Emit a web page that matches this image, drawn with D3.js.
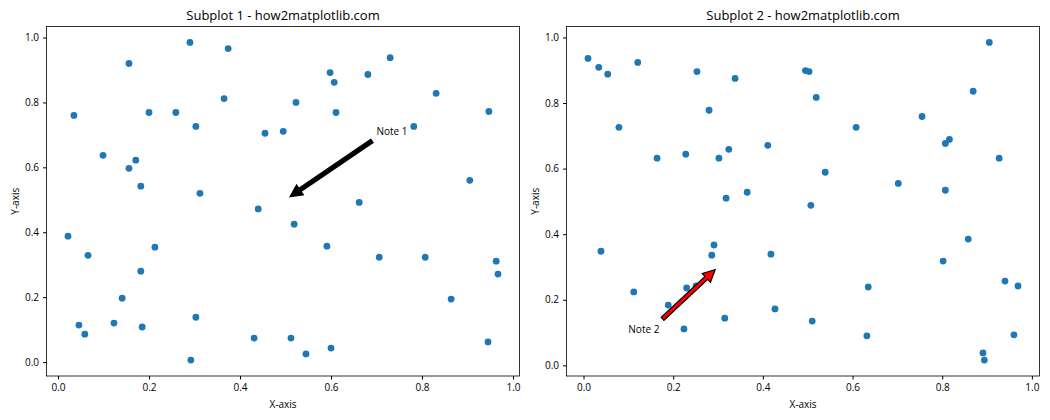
<!DOCTYPE html>
<html>
<head>
<meta charset="utf-8">
<script src="https://cdn.jsdelivr.net/npm/d3@7"></script>
<style>
  body { margin: 0; background: #fff; }
  svg text { font-family: "Segoe UI", "Open Sans", sans-serif; fill: #000; }
</style>
</head>
<body>
<svg id="chart" width="1050" height="420"></svg>
<script>
// Scatter points
const x1 = [0.035, 0.156, 0.099, 0.156, 0.171, 0.182, 0.200, 0.259, 0.290, 0.303,
            0.312, 0.365, 0.374, 0.455, 0.440, 0.495, 0.523, 0.598, 0.607, 0.611,
            0.681, 0.730, 0.782, 0.831, 0.947, 0.905, 0.662, 0.022, 0.066, 0.213,
            0.182, 0.141, 0.046, 0.059, 0.123, 0.185, 0.303, 0.292, 0.431, 0.519,
            0.591, 0.706, 0.807, 0.963, 0.967, 0.864, 0.512, 0.545, 0.600, 0.945];
const y1 = [0.760, 0.920, 0.637, 0.597, 0.622, 0.542, 0.769, 0.769, 0.985, 0.726,
            0.520, 0.812, 0.966, 0.705, 0.472, 0.711, 0.800, 0.892, 0.862, 0.769,
            0.886, 0.938, 0.726, 0.828, 0.772, 0.560, 0.492, 0.388, 0.329, 0.354,
            0.280, 0.197, 0.114, 0.086, 0.120, 0.108, 0.138, 0.006, 0.074, 0.425,
            0.357, 0.323, 0.323, 0.311, 0.271, 0.194, 0.074, 0.025, 0.043, 0.062];

const x2 = [0.010, 0.034, 0.054, 0.079, 0.121, 0.164, 0.228, 0.253, 0.280, 0.302,
            0.324, 0.338, 0.318, 0.365, 0.411, 0.495, 0.503, 0.519, 0.608, 0.539,
            0.507, 0.702, 0.755, 0.807, 0.807, 0.816, 0.869, 0.905, 0.927, 0.039,
            0.112, 0.189, 0.224, 0.230, 0.251, 0.286, 0.291, 0.315, 0.418, 0.427,
            0.858, 0.802, 0.940, 0.969, 0.635, 0.510, 0.632, 0.960, 0.891, 0.894];
const y2 = [0.936, 0.909, 0.888, 0.726, 0.924, 0.632, 0.644, 0.896, 0.778, 0.632,
            0.659, 0.875, 0.510, 0.528, 0.671, 0.899, 0.896, 0.817, 0.726, 0.589,
            0.488, 0.555, 0.759, 0.534, 0.677, 0.689, 0.836, 0.985, 0.632, 0.348,
            0.224, 0.184, 0.111, 0.236, 0.242, 0.336, 0.367, 0.144, 0.339, 0.172,
            0.385, 0.318, 0.257, 0.242, 0.239, 0.135, 0.090, 0.093, 0.038, 0.016];

const tickValues = [0, 0.2, 0.4, 0.6, 0.8, 1.0];

const subplots = [
  { left: 46.5, xs: x1, ys: y1, title: "Subplot 1 - how2matplotlib.com",
    note: "Note 1", noteAt: [0.5, 0.5], textAt: [0.7, 0.7], fill: "black" },
  { left: 566.5, xs: x2, ys: y2, title: "Subplot 2 - how2matplotlib.com",
    note: "Note 2", noteAt: [0.3, 0.3], textAt: [0.1, 0.1], fill: "red" }
];

const plotTop = 26.5, plotH = 349.5, plotW = 473;
const svg = d3.select("#chart");

// matplotlib style auto limits: 5% margin around the data
const padded = vals => {
  const [lo, hi] = d3.extent(vals);
  const m = (hi - lo) * 0.05;
  return [lo - m, hi + m];
};

subplots.forEach(p => {
  const x = d3.scaleLinear().domain(padded(p.xs)).range([p.left, p.left + plotW]);
  const y = d3.scaleLinear().domain(padded(p.ys)).range([plotTop + plotH, plotTop]);

  const g = svg.append("g");

  g.append("g")
    .attr("transform", `translate(0,${plotTop + plotH})`)
    .call(d3.axisBottom(x).tickValues(tickValues).tickFormat(d3.format(".1f")).tickSizeOuter(0).tickSize(3.5).tickPadding(4))
    .call(a => a.select(".domain").remove())
    .call(a => a.selectAll("text").attr("font-size", 10).attr("fill", "#000"));

  g.append("g")
    .attr("transform", `translate(${p.left},0)`)
    .call(d3.axisLeft(y).tickValues(tickValues).tickFormat(d3.format(".1f")).tickSizeOuter(0).tickSize(3.5).tickPadding(4))
    .call(a => a.select(".domain").remove())
    .call(a => a.selectAll("text").attr("font-size", 10).attr("fill", "#000"));

  g.append("rect")
    .attr("x", p.left).attr("y", plotTop)
    .attr("width", plotW).attr("height", plotH)
    .attr("fill", "none").attr("stroke", "#000").attr("stroke-width", 0.8);

  g.append("text")
    .attr("x", p.left + plotW / 2).attr("y", plotTop - 7)
    .attr("text-anchor", "middle").attr("font-size", 13)
    .text(p.title);

  g.append("text")
    .attr("x", p.left + plotW / 2).attr("y", 408)
    .attr("text-anchor", "middle").attr("font-size", 10)
    .text("X-axis");

  g.append("text")
    .attr("transform", `translate(${p.left - 28},${plotTop + plotH / 2}) rotate(-90)`)
    .attr("text-anchor", "middle").attr("font-size", 10)
    .text("Y-axis");

  g.append("g").selectAll("circle")
    .data(p.xs.map((v, i) => [v, p.ys[i]]))
    .join("circle")
    .attr("cx", d => x(d[0]))
    .attr("cy", d => y(d[1]))
    .attr("r", 3.4)
    .attr("fill", "#1f77b4");

  // annotation text, then an arrow from the nearest bbox corner to the point
  const label = g.append("text")
    .attr("x", x(p.textAt[0])).attr("y", y(p.textAt[1]))
    .attr("font-size", 10)
    .text(p.note);
  const bb = label.node().getBBox();
  const tx = x(p.noteAt[0]), ty = y(p.noteAt[1]);
  const sx = d3.least([bb.x, bb.x + bb.width / 2, bb.x + bb.width], v => Math.abs(v - tx));
  const sy = d3.least([bb.y, bb.y + bb.height / 2, bb.y + bb.height], v => Math.abs(v - ty));

  const len = Math.hypot(tx - sx, ty - sy);
  const ux = (tx - sx) / len, uy = (ty - sy) / len;
  const shrink = len * 0.05;
  const ax = sx + ux * shrink, ay = sy + uy * shrink;
  const bx = tx - ux * shrink, by = ty - uy * shrink;
  const nx = -uy, ny = ux;
  const w = 4, hw = 12, hl = 12;
  const hx = bx - ux * hl, hy = by - uy * hl;
  const pts = [
    [ax + nx * w / 2, ay + ny * w / 2],
    [hx + nx * w / 2, hy + ny * w / 2],
    [hx + nx * hw / 2, hy + ny * hw / 2],
    [bx, by],
    [hx - nx * hw / 2, hy - ny * hw / 2],
    [hx - nx * w / 2, hy - ny * w / 2],
    [ax - nx * w / 2, ay - ny * w / 2]
  ];
  g.append("path")
    .attr("d", d3.line()(pts) + "Z")
    .attr("fill", p.fill)
    .attr("stroke", "#000")
    .attr("stroke-width", 1.2)
    .attr("stroke-linejoin", "miter");
});
</script>
</body>
</html>
